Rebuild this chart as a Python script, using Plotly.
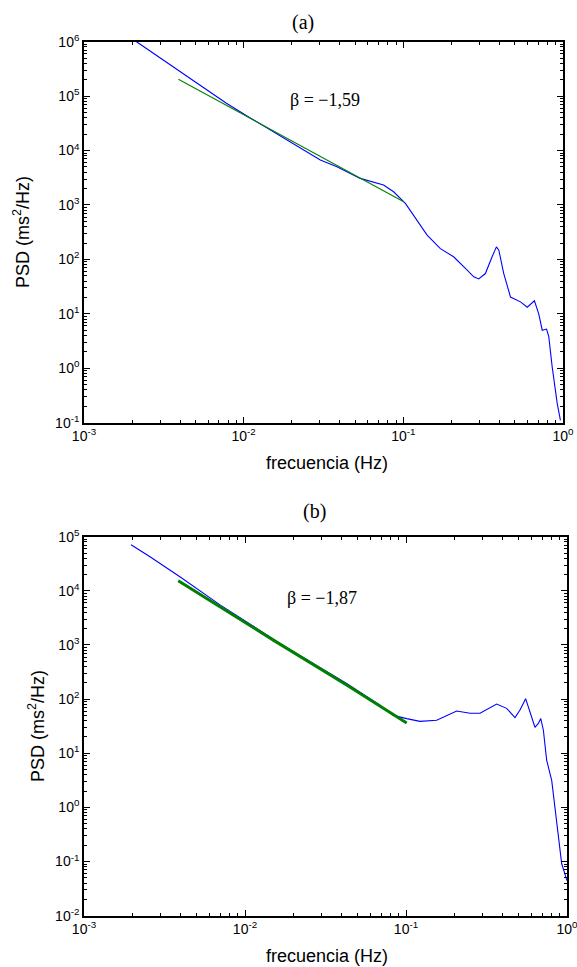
import plotly.graph_objects as go

# ---------------- panel (a) ----------------
freq_a = [0.002133, 0.002594, 0.003981, 0.005333, 0.007798, 0.01099, 0.01959, 0.03020,
          0.03837, 0.05370, 0.07516, 0.08690, 0.1030, 0.1409, 0.1706, 0.2065, 0.2449,
          0.2761, 0.2965, 0.3266, 0.3597, 0.3828, 0.3963, 0.4256, 0.4688, 0.5420,
          0.5970, 0.6622, 0.7047, 0.7413, 0.7889, 0.8147, 0.8551, 0.9204, 0.9638]
psd_a = [1.0e6, 6.76e5, 2.88e5, 1.62e5, 7.41e4, 3.98e4, 1.45e4, 6.68e3,
         5.04e3, 3.08e3, 2.32e3, 1.75e3, 1.07e3, 280, 158, 112, 68.4,
         47.9, 43.7, 55.0, 112, 170, 148, 55, 20.4, 16.6,
         13.2, 17.4, 10.0, 5.0, 5.25, 3.8, 1.07, 0.224, 0.110]
fit_freq_a = [0.0039, 0.01099, 0.01959, 0.0302, 0.0513, 0.1005]
fit_psd_a = [2.04e5, 3.9e4, 1.55e4, 7.78e3, 3.34e3, 1.15e3]
beta_a = "β = −1,59"

# ---------------- panel (b) ----------------
freq_b = [0.00196, 0.00257, 0.00394, 0.0070, 0.01648, 0.02655, 0.0428, 0.069,
          0.0834, 0.101, 0.122, 0.155, 0.2065, 0.250, 0.2884, 0.3656, 0.4217,
          0.4753, 0.5105, 0.5534, 0.589, 0.6324, 0.664, 0.687, 0.713, 0.748,
          0.8035, 0.841, 0.883, 0.927, 1.0]
psd_b = [7.11e4, 4.27e4, 1.82e4, 5.5e3, 1.07e3, 457, 195, 77.6,
         50.1, 43.7, 38.9, 40.7, 60.3, 55, 55, 81.3, 67.6,
         45.7, 63.1, 102, 55, 30.2, 35.5, 43.7, 26.9, 7.41,
         3.16, 1.02, 0.282, 0.091, 0.0447]
fit_freq_b = [0.00385, 0.015, 0.0428, 0.069, 0.101]
fit_psd_b = [1.54e4, 1.23e3, 182, 74, 36.3]
beta_b = "β = −1,87"

titles = ["(a)", "(b)"]
x_label = "frecuencia (Hz)"
y_label = "PSD (ms<sup>2</sup>/Hz)"
x_exps = [-3, -2, -1, 0]
y_exps_a = [-1, 0, 1, 2, 3, 4, 5, 6]
y_exps_b = [-2, -1, 0, 1, 2, 3, 4, 5]

W, H = 577, 967
BLUE = "#0000FF"
GREEN = "#008000"
SANS = "Liberation Sans, Arial, sans-serif"
SERIF = "Liberation Serif, Times New Roman, serif"

fig = go.Figure()
fig.add_trace(go.Scatter(x=freq_a, y=psd_a, mode="lines", line=dict(color=BLUE, width=1.1),
                         xaxis="x", yaxis="y", showlegend=False))
fig.add_trace(go.Scatter(x=fit_freq_a, y=fit_psd_a, mode="lines", line=dict(color=GREEN, width=1.1),
                         xaxis="x", yaxis="y", showlegend=False))
fig.add_trace(go.Scatter(x=freq_b, y=psd_b, mode="lines", line=dict(color=BLUE, width=1.1),
                         xaxis="x2", yaxis="y2", showlegend=False))
fig.add_trace(go.Scatter(x=fit_freq_b, y=fit_psd_b, mode="lines", line=dict(color=GREEN, width=3),
                         xaxis="x2", yaxis="y2", showlegend=False))


def sup(e):
    return "10<sup>%d</sup>" % e


def minor_vals(exps):
    return [m * 10.0 ** e for e in exps[:-1] for m in range(2, 10)]


def axis(domain, exps, anchor):
    return dict(
        type="log", domain=domain, anchor=anchor, automargin=False,
        range=[exps[0], exps[-1]],
        tickmode="array", tickvals=[10.0 ** e for e in exps], ticktext=[sup(e) for e in exps],
        ticks="inside", ticklen=6, tickwidth=1.3, tickcolor="black",
        ticklabeloverflow="allow",
        minor=dict(tickmode="array", tickvals=minor_vals(exps), ticks="inside",
                   ticklen=3, tickwidth=1, tickcolor="black", showgrid=False),
        showline=True, linecolor="black", linewidth=1.6, mirror="ticks",
        showgrid=False, zeroline=False,
        tickfont=dict(family=SANS, size=14, color="black"),
    )


xa_dom = [84 / W, 563 / W]
xb_dom = [84 / W, 567 / W]
ya_dom = [1 - 422.7 / H, 1 - 41.7 / H]
yb_dom = [1 - 915.7 / H, 1 - 536.7 / H]

fig.update_layout(
    template="none",
    width=W, height=H, autosize=False,
    margin=dict(l=0, r=0, t=0, b=0, pad=0),
    paper_bgcolor="white", plot_bgcolor="white",
    xaxis=axis(xa_dom, x_exps, "y"),
    yaxis=axis(ya_dom, y_exps_a, "x"),
    xaxis2=axis(xb_dom, x_exps, "y2"),
    yaxis2=axis(yb_dom, y_exps_b, "x2"),
)


def note(text, px, py, font, size, angle=0):
    return dict(text=text, x=px / W, y=1 - py / H, xref="paper", yref="paper",
                xanchor="center", yanchor="middle", textangle=angle,
                showarrow=False, font=dict(family=font, size=size, color="black"))


ann = [
    note(titles[0], 303, 22, SERIF, 20),
    note(titles[1], 315, 511, SERIF, 20),
    note(x_label, 327, 463, SANS, 18),
    note(x_label, 327, 956, SANS, 18),
    note(y_label, 21, 232, SANS, 18, -90),
    note(y_label, 36, 726, SANS, 18, -90),
    note(beta_a, 325, 100, SERIF, 18),
    note(beta_b, 322.5, 597.5, SERIF, 18),
]
fig.update_layout(annotations=ann)

fig.write_html(
    "out.html",
    config={"displayModeBar": False},
    post_script="document.body.style.margin='0';document.body.style.padding='0';"
                "document.documentElement.style.overflow='hidden';",
)
